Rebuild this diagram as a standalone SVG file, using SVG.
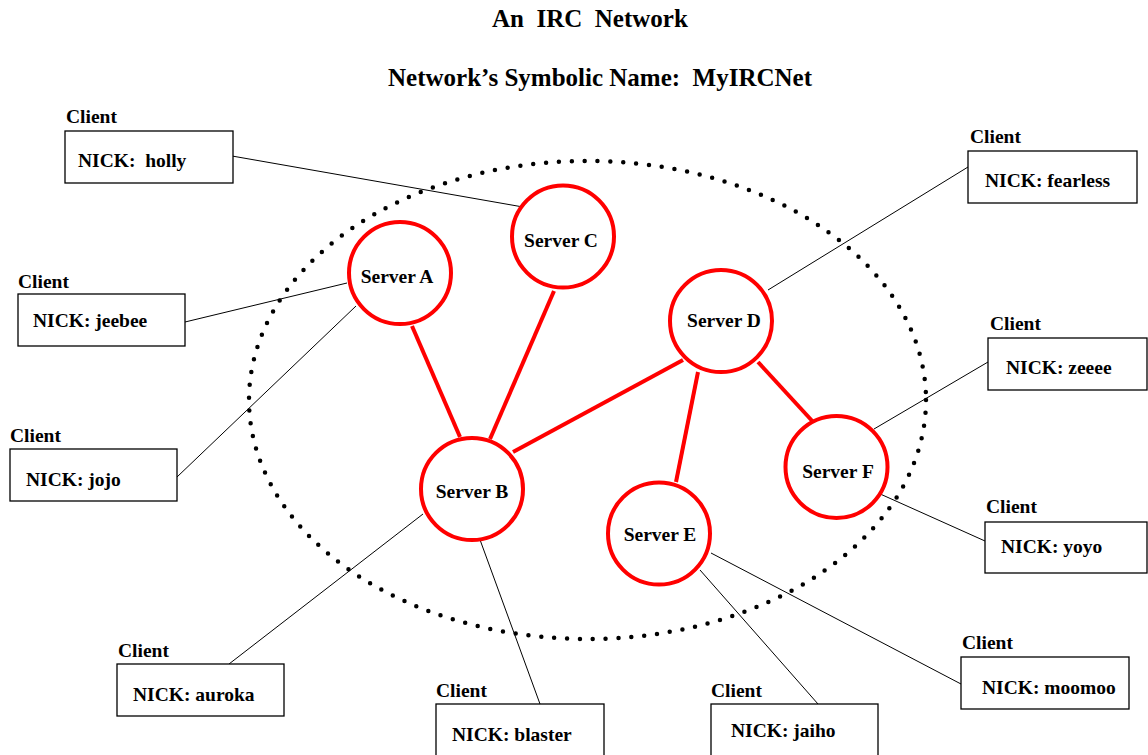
<svg xmlns="http://www.w3.org/2000/svg" width="1148" height="755" viewBox="0 0 1148 755">
<style>
text{font-family:"Liberation Serif","Times New Roman",serif;font-weight:bold;fill:#000;white-space:pre}
.title{font-size:25px}
.lbl{font-size:19.5px}
.srv{font-size:19.5px;text-anchor:middle}
.server circle{fill:#fff;stroke:#ff0000;stroke-width:4}
.box{fill:#fff;stroke:#000;stroke-width:1.3}
.link{stroke:#ff0000;stroke-width:4;fill:none}
.conn{stroke:#000;stroke-width:1;fill:none}
.net{fill:none;stroke:#000;stroke-width:4.5;stroke-linecap:round;stroke-dasharray:0 12.9}
</style>
<rect width="1148" height="755" fill="#fff"/>
<g id="titles">
<text class="title" x="492" y="27">An  IRC  Network</text>
<text class="title" x="388" y="86">Network’s Symbolic Name:  MyIRCNet</text>
</g>
<ellipse id="network" class="net" cx="587.5" cy="400" rx="338.5" ry="239"/>
<g id="connectors">
<line class="link" x1="412" y1="326" x2="460" y2="437"/>
<line class="link" x1="554" y1="291" x2="490" y2="439"/>
<line class="link" x1="683" y1="360" x2="513" y2="452"/>
<line class="link" x1="698" y1="372" x2="676" y2="482"/>
<line class="link" x1="758" y1="362" x2="815" y2="424"/>
<line class="conn" x1="232" y1="156" x2="523" y2="207"/>
<line class="conn" x1="185" y1="322" x2="347" y2="283"/>
<line class="conn" x1="177" y1="477" x2="356" y2="306"/>
<line class="conn" x1="968" y1="167" x2="768" y2="290"/>
<line class="conn" x1="988" y1="362" x2="874" y2="429"/>
<line class="conn" x1="985" y1="541" x2="878" y2="493"/>
<line class="conn" x1="961" y1="684" x2="711" y2="553"/>
<line class="conn" x1="818" y1="704" x2="700" y2="570"/>
<line class="conn" x1="540" y1="704" x2="479" y2="537"/>
<line class="conn" x1="229" y1="664" x2="423" y2="514"/>
</g>
<g id="serverA" class="server"><circle cx="400" cy="273" r="51"/><text class="srv" x="397" y="283">Server A</text></g>
<g id="serverB" class="server"><circle cx="472" cy="489" r="51"/><text class="srv" x="472" y="498">Server B</text></g>
<g id="serverC" class="server"><circle cx="563" cy="236.5" r="51"/><text class="srv" x="561" y="247">Server C</text></g>
<g id="serverD" class="server"><circle cx="721" cy="321" r="51"/><text class="srv" x="724" y="327">Server D</text></g>
<g id="serverE" class="server"><circle cx="659" cy="533.5" r="51"/><text class="srv" x="660" y="541">Server E</text></g>
<g id="serverF" class="server"><circle cx="836.5" cy="467" r="51"/><text class="srv" x="838" y="478">Server F</text></g>
<g id="client-holly"><text class="lbl" x="66" y="123">Client</text><rect class="box" x="65" y="131" width="168" height="52"/><text class="lbl" x="78" y="167">NICK:  holly</text></g>
<g id="client-jeebee"><text class="lbl" x="18" y="288">Client</text><rect class="box" x="18" y="294" width="167" height="52"/><text class="lbl" x="33" y="327">NICK: jeebee</text></g>
<g id="client-jojo"><text class="lbl" x="10" y="442">Client</text><rect class="box" x="10" y="449" width="167" height="52"/><text class="lbl" x="26" y="486">NICK: jojo</text></g>
<g id="client-auroka"><text class="lbl" x="118" y="657">Client</text><rect class="box" x="117" y="664" width="167" height="52"/><text class="lbl" x="133" y="701">NICK: auroka</text></g>
<g id="client-blaster"><text class="lbl" x="436" y="697">Client</text><rect class="box" x="436" y="704" width="168" height="56"/><text class="lbl" x="452" y="741">NICK: blaster</text></g>
<g id="client-jaiho"><text class="lbl" x="711" y="697">Client</text><rect class="box" x="711" y="704" width="167" height="56"/><text class="lbl" x="731" y="737">NICK: jaiho</text></g>
<g id="client-moomoo"><text class="lbl" x="962" y="649">Client</text><rect class="box" x="961" y="657" width="168" height="52"/><text class="lbl" x="982" y="694">NICK: moomoo</text></g>
<g id="client-yoyo"><text class="lbl" x="986" y="513">Client</text><rect class="box" x="985" y="522" width="162" height="51"/><text class="lbl" x="1001" y="553">NICK: yoyo</text></g>
<g id="client-zeeee"><text class="lbl" x="990" y="330">Client</text><rect class="box" x="988" y="338" width="159" height="52"/><text class="lbl" x="1006" y="374">NICK: zeeee</text></g>
<g id="client-fearless"><text class="lbl" x="970" y="143">Client</text><rect class="box" x="968" y="151" width="169" height="52"/><text class="lbl" x="985" y="187">NICK: fearless</text></g>
</svg>
